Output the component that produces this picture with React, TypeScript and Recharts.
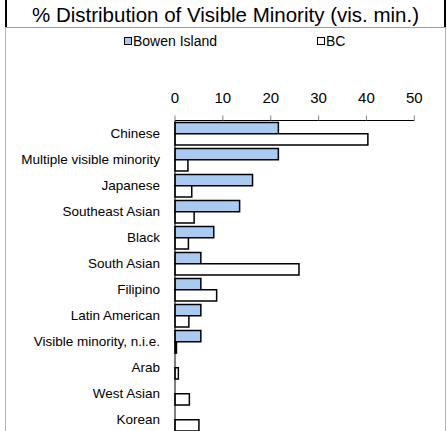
import React from 'react';
import { BarChart, Bar, XAxis, YAxis, Legend } from 'recharts';

const categories = [
  'Chinese',
  'Multiple visible minority',
  'Japanese',
  'Southeast Asian',
  'Black',
  'South Asian',
  'Filipino',
  'Latin American',
  'Visible minority, n.i.e.',
  'Arab',
  'West Asian',
  'Korean',
];
const bowenIsland = [21.6, 21.6, 16.2, 13.5, 8.1, 5.4, 5.4, 5.4, 5.4, 0, 0, 0];
const bc = [40.3, 2.7, 3.5, 4.0, 2.8, 25.9, 8.7, 2.9, 0.3, 0.7, 3.0, 5.0];
const xTicks = [0, 10, 20, 30, 40, 50];

const data = categories.map((name, i) => ({ name, bowen: bowenIsland[i], bc: bc[i] }));

const FONT = '"Liberation Sans", Arial, Helvetica, sans-serif';

const legendLeft: Record<string, number> = { 'Bowen Island': 124, BC: 317 };

const renderLegend = (props: any) => {
  const payload = props.payload || [];
  return (
    <div style={{ position: 'relative', height: 16, width: 447, fontFamily: FONT }}>
      {payload.map((entry: any) => (
        <div
          key={entry.value}
          style={{
            position: 'absolute',
            left: legendLeft[entry.value] ?? 0,
            top: 0,
            display: 'flex',
            alignItems: 'center',
            height: 16,
            fontSize: 14,
            color: '#000',
            whiteSpace: 'nowrap',
          }}
        >
          <span
            style={{
              display: 'inline-block',
              width: 8,
              height: 8,
              boxSizing: 'border-box',
              border: '1.5px solid #000',
              background: entry.payload?.fill || entry.color,
              marginRight: 1,
            }}
          />
          <span>{entry.value}</span>
        </div>
      ))}
    </div>
  );
};

export default function App() {
  return (
    <div
      style={{
        position: 'fixed',
        left: 0,
        top: 0,
        width: 447,
        height: 431,
        overflow: 'hidden',
        background: '#fff',
        fontFamily: FONT,
      }}
    >
      <div
        style={{
          position: 'absolute',
          left: 5,
          top: 27,
          width: 441,
          height: 430,
          boxSizing: 'border-box',
          borderLeft: '1.5px solid #b4b4b4',
          borderRight: '1.5px solid #b4b4b4',
          borderTop: '1.5px solid #a0a0a0',
        }}
      />
      <div
        style={{
          position: 'absolute',
          left: 5,
          top: -2,
          width: 441,
          height: 29,
          boxSizing: 'border-box',
          borderLeft: '2px solid #000',
          borderRight: '2px solid #000',
          borderTop: '2px solid #000',
          textAlign: 'center',
          fontSize: 20.5,
          lineHeight: '30px',
          color: '#000',
          whiteSpace: 'nowrap',
        }}
      >
        % Distribution of Visible Minority (vis. min.)
      </div>
      <div style={{ position: 'absolute', left: 0, top: 0 }}>
        <BarChart
          width={447}
          height={440}
          data={data}
          layout="vertical"
          margin={{ top: 90.5, right: 32.7, bottom: 7.5, left: 0 }}
          barSize={11.3}
          barGap={0}
        >
          <XAxis
            type="number"
            orientation="top"
            domain={[0, 50]}
            ticks={xTicks}
            interval={0}
            height={30}
            tickSize={5}
            tickMargin={13}
            axisLine={{ stroke: '#000', strokeWidth: 1 }}
            tickLine={{ stroke: '#808080' }}
            tick={{ fill: '#000', fontSize: 15, fontFamily: FONT }}
          />
          <YAxis
            type="category"
            dataKey="name"
            width={175}
            tickSize={0}
            tickLine={false}
            tickMargin={15}
            interval={0}
            axisLine={{ stroke: '#000', strokeWidth: 1 }}
            tick={{ fill: '#000', fontSize: 13.5, fontFamily: FONT }}
          />
          <Legend
            verticalAlign="middle"
            align="center"
            layout="horizontal"
            wrapperStyle={{ top: 33, left: 0, width: 447 }}
            content={renderLegend}
          />
          <Bar
            dataKey="bowen"
            name="Bowen Island"
            fill="#a9cbf2"
            stroke="#000"
            strokeWidth={1.5}
            isAnimationActive={false}
          />
          <Bar
            dataKey="bc"
            name="BC"
            fill="#ffffff"
            stroke="#000"
            strokeWidth={1.5}
            isAnimationActive={false}
          />
        </BarChart>
      </div>
    </div>
  );
}
